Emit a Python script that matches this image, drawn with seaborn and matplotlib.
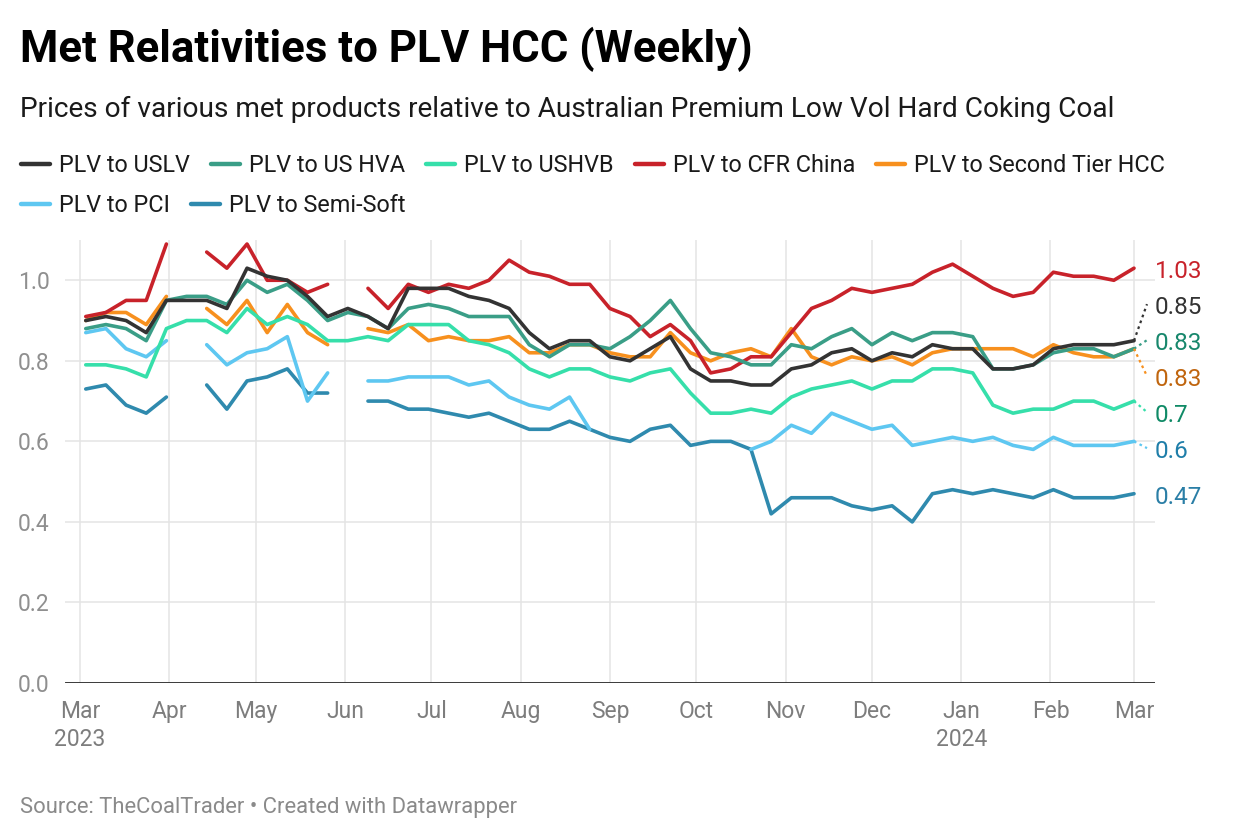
import numpy as np
import pandas as pd
import matplotlib
matplotlib.use("Agg")
import matplotlib.pyplot as plt
import matplotlib.dates as mdates
from matplotlib.lines import Line2D
import seaborn as sns

# ---------------- data ----------------
title = "Met Relativities to PLV HCC (Weekly)"
subtitle = "Prices of various met products relative to Australian Premium Low Vol Hard Coking Coal"
source = "Source: TheCoalTrader \u2022 Created with Datawrapper"

start_date = "2023-03-03"
n_weeks = 53

series_names = ["PLV to USLV", "PLV to US HVA", "PLV to USHVB", "PLV to CFR China",
                "PLV to Second Tier HCC", "PLV to PCI", "PLV to Semi-Soft"]

nan = np.nan
uslv = [.90, .91, .90, .87, .95, .95, .95, .93, 1.03, 1.01, 1.00, .96, .91, .93, .91, .88, .98, .98,
        .98, .96, .95, .93, .87, .83, .85, .85, .81, .80, .83, .86, .78, .75, .75, .74, .74, .78,
        .79, .82, .83, .80, .82, .81, .84, .83, .83, .78, .78, .79, .83, .84, .84, .84, .85]
us_hva = [.88, .89, .88, .85, .95, .96, .96, .94, 1.00, .97, .99, .95, .90, .92, .91, .88, .93, .94,
          .93, .91, .91, .91, .84, .81, .84, .84, .83, .86, .90, .95, .88, .82, .81, .79, .79, .84,
          .83, .86, .88, .84, .87, .85, .87, .87, .86, .78, .78, .79, .82, .83, .83, .81, .83]
ushvb = [.79, .79, .78, .76, .88, .90, .90, .87, .93, .89, .91, .89, .85, .85, .86, .85, .89, .89,
         .89, .85, .84, .82, .78, .76, .78, .78, .76, .75, .77, .78, .72, .67, .67, .68, .67, .71,
         .73, .74, .75, .73, .75, .75, .78, .78, .77, .69, .67, .68, .68, .70, .70, .68, .70]
cfr_china = [.91, .92, .95, .95, 1.09, nan, 1.07, 1.03, 1.09, 1.00, 1.00, .97, .99, nan, .98, .93,
             .99, .97, .99, .98, 1.00, 1.05, 1.02, 1.01, .99, .99, .93, .91, .86, .89, .85, .77,
             .78, .81, .81, .87, .93, .95, .98, .97, .98, .99, 1.02, 1.04, 1.01, .98, .96, .97,
             1.02, 1.01, 1.01, 1.00, 1.03]
second_tier = [.90, .92, .92, .89, .96, nan, .93, .89, .95, .87, .94, .87, .84, nan, .88, .87, .89,
               .85, .86, .85, .85, .86, .82, .82, .84, .84, .82, .81, .81, .87, .82, .80, .82, .83,
               .81, .88, .81, .79, .81, .80, .81, .79, .82, .83, .83, .83, .83, .81, .84, .82, .81,
               .81, .83]
pci = [.87, .88, .83, .81, .85, nan, .84, .79, .82, .83, .86, .70, .77, nan, .75, .75, .76, .76,
       .76, .74, .75, .71, .69, .68, .71, .63, nan, nan, nan, nan, nan, nan, nan, .58, .60, .64,
       .62, .67, .65, .63, .64, .59, .60, .61, .60, .61, .59, .58, .61, .59, .59, .59, .60]
semi_soft = [.73, .74, .69, .67, .71, nan, .74, .68, .75, .76, .78, .72, .72, nan, .70, .70, .68,
             .68, .67, .66, .67, .65, .63, .63, .65, .63, .61, .60, .63, .64, .59, .60, .60, .58,
             .42, .46, .46, .46, .44, .43, .44, .40, .47, .48, .47, .48, .47, .46, .48, .46, .46,
             .46, .47]

series_values = [uslv, us_hva, ushvb, cfr_china, second_tier, pci, semi_soft]
line_colors = ["#333333", "#3a9e87", "#36dfaa", "#c8222a", "#f7901e", "#5ec7f1", "#2f8aae"]
label_colors = ["#333333", "#17876c", "#0f8a66", "#c8222a", "#c0650e", "#1f7ea9", "#2a7ea6"]

month_ticks = ["2023-03-01", "2023-04-01", "2023-05-01", "2023-06-01", "2023-07-01", "2023-08-01",
               "2023-09-01", "2023-10-01", "2023-11-01", "2023-12-01", "2024-01-01", "2024-02-01",
               "2024-03-01"]
month_labels = ["Mar\n2023", "Apr", "May", "Jun", "Jul", "Aug", "Sep", "Oct", "Nov", "Dec",
                "Jan\n2024", "Feb", "Mar"]
y_ticks = [0.0, 0.2, 0.4, 0.6, 0.8, 1.0]
y_labels = ["0.0", "0.2", "0.4", "0.6", "0.8", "1.0"]

# ---------------- style ----------------
sns.set_style("white")
FONT = ["Roboto", "DejaVu Sans"]
plt.rcParams["font.family"] = FONT

W, H = 1240, 840
fig = plt.figure(figsize=(W / 100, H / 100), dpi=100)


def fx(px):
    return px / W


def fy(py):
    return 1 - py / H


AX_L, AX_R, AX_T, AX_B = 65, 1155, 240, 683
ax = fig.add_axes([fx(AX_L), fy(AX_B), (AX_R - AX_L) / W, (AX_B - AX_T) / H])

dates = pd.date_range(start_date, periods=n_weeks, freq="7D")
tick_dates = pd.to_datetime(month_ticks)

px_per_day = (1134 - 80) / (tick_dates[-1] - tick_dates[0]).days
left = mdates.date2num(tick_dates[0]) - (80 - AX_L) / px_per_day
right = mdates.date2num(tick_dates[-1]) + (AX_R - 1134) / px_per_day

# draw lines (first series on top -> draw in reverse order)
for idx in reversed(range(len(series_names))):
    vals = pd.Series(series_values[idx], dtype=float)
    df = pd.DataFrame({"date": dates, "value": vals, "seg": vals.isna().cumsum()})
    df = df.dropna()
    sns.lineplot(data=df, x="date", y="value", units="seg", estimator=None, sort=False,
                 color=line_colors[idx], linewidth=2.6, ax=ax, legend=False,
                 solid_joinstyle="round", solid_capstyle="round",
                 zorder=3 + (len(series_names) - idx) * 0.1)

ax.set_xlim(left, right)
ax.set_ylim(0, 1.1)
ax.set_xlabel("")
ax.set_ylabel("")
for s in ax.spines.values():
    s.set_visible(False)

ax.set_yticks(y_ticks)
ax.set_yticklabels(y_labels)
ax.set_xticks(tick_dates)
ax.set_xticklabels(month_labels, linespacing=1.3)
ax.grid(True, color="#e4e4e4", linewidth=1.1)
ax.set_axisbelow(True)
ax.tick_params(axis="y", length=0, pad=11, labelsize=16.5, labelcolor="#8f8f8f")
ax.tick_params(axis="x", length=0, pad=12, labelsize=16.5, labelcolor="#7d7d7d")
ax.axhline(0, color="#1a1a1a", linewidth=1.9, zorder=4, xmin=0, xmax=1)

# ---------------- end labels ----------------
last_vals = [v[-1] for v in series_values]
order = sorted(range(len(last_vals)), key=lambda i: (-last_vals[i], i))
pos = [last_vals[i] for i in order]
gap = 36 / ((AX_B - AX_T) / 1.1)
for _ in range(500):
    for k in range(len(pos) - 1):
        d = pos[k] - pos[k + 1]
        if d < gap:
            o = (gap - d) / 2
            pos[k] += o
            pos[k + 1] -= o
label_pos = {order[k]: pos[k] for k in range(len(order))}

last_date = mdates.date2num(dates[-1])
leader_end = last_date + 13 / px_per_day
text_x = last_date + 21 / px_per_day
for i, name in enumerate(series_names):
    v = last_vals[i]
    ly = label_pos[i]
    if abs(ly - v) > 0.005:
        ax.plot([last_date, leader_end], [v, ly], linestyle=(0, (1.2, 1.6)), color=line_colors[i],
                linewidth=1.6, clip_on=False, zorder=5)
    ax.text(text_x, ly - 0.009, f"{v:g}", color=label_colors[i], fontsize=17.5,
            va="center", ha="left", clip_on=False)

# ---------------- titles ----------------
fig.text(fx(20), fy(62), title, fontsize=31.5, fontweight="bold", color="#000000", va="baseline")
fig.text(fx(20), fy(117), subtitle, fontsize=20.2, color="#1a1a1a", va="baseline")
fig.text(fx(20), fy(813), source, fontsize=15.8, color="#8a8a8a", va="baseline")

# ---------------- legend (flow layout) ----------------
renderer = fig.canvas.get_renderer()
row_y = [164, 204]
x = 20
row = 0
for name, col in zip(series_names, line_colors):
    t = fig.text(0, 0, name, fontsize=16.8, color="#1a1a1a", va="baseline")
    w = t.get_window_extent(renderer).width
    item_w = 31 + 8 + w
    if x + item_w > 1225 and x > 20:
        row += 1
        x = 20
    fig.add_artist(Line2D([fx(x + 1), fx(x + 30)], [fy(row_y[row])] * 2, color=col, linewidth=3.2,
                          solid_capstyle="round", transform=fig.transFigure))
    t.set_position((fx(x + 39), fy(row_y[row] + 8)))
    x += item_w + 20

fig.savefig("out.png", dpi=100, facecolor="white")
